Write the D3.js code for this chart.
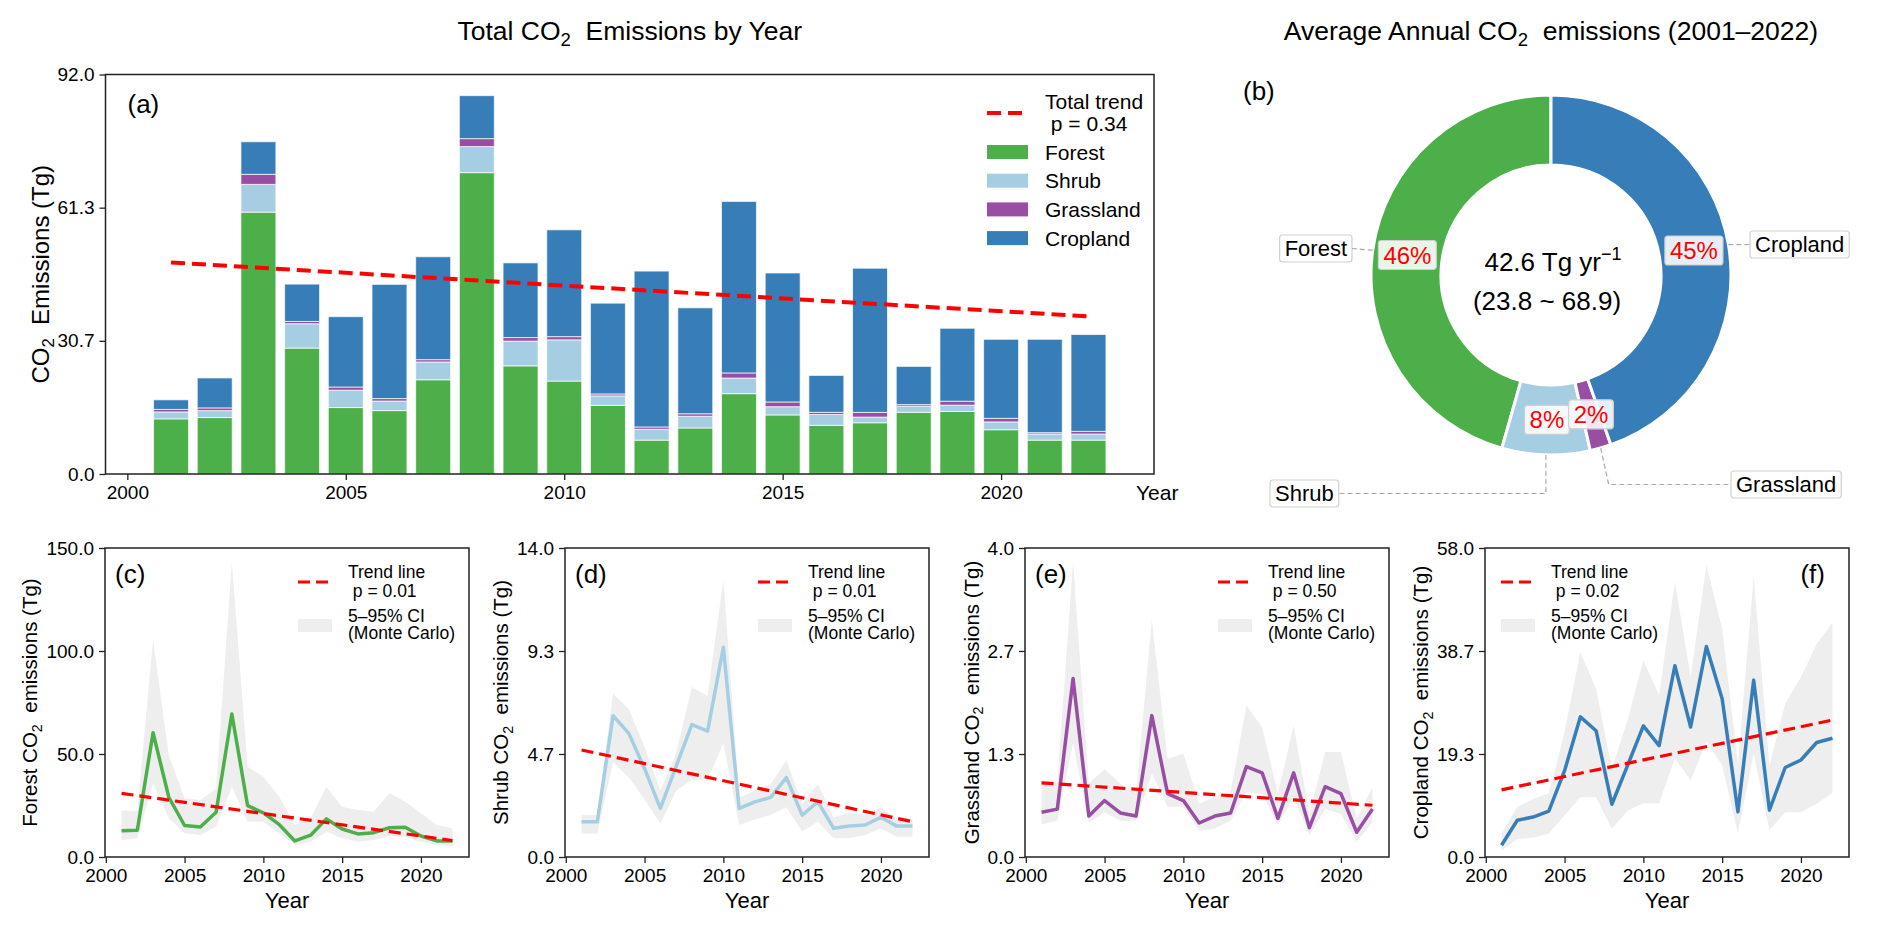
<!DOCTYPE html>
<html>
<head>
<meta charset="utf-8">
<script src="https://cdn.jsdelivr.net/npm/d3@7"></script>
<style>
  body { margin: 0; background: #fff; }
  svg { display: block; font-family: "Liberation Sans", Arial, sans-serif; }
  text { white-space: pre; }
</style>
</head>
<body>
<svg id="chart" width="1892" height="927"></svg>
<script>
// Values (Tg CO2 per year)
const years = [2001, 2002, 2003, 2004, 2005, 2006, 2007, 2008, 2009, 2010, 2011,
               2012, 2013, 2014, 2015, 2016, 2017, 2018, 2019, 2020, 2021, 2022]
const forest = [12.7, 13.0, 60.3, 29.0, 15.3, 14.6, 21.7, 69.4, 24.9, 21.4, 15.8,
                7.8, 10.6, 18.5, 13.6, 11.2, 11.8, 14.2, 14.4, 10.2, 7.8, 7.8]
const shrub = [1.6, 1.6, 6.4, 5.6, 4.0, 2.2, 4.1, 6.0, 5.7, 9.5, 2.2,
               2.5, 2.7, 3.6, 1.9, 2.5, 1.3, 1.4, 1.45, 1.8, 1.4, 1.4]
const grassland = [0.58, 0.62, 2.31, 0.53, 0.73, 0.57, 0.53, 1.83, 0.82, 0.73, 0.44,
                   0.53, 0.57, 1.17, 1.09, 0.50, 1.09, 0.38, 0.91, 0.82, 0.32, 0.62]
const cropland = [2.2, 6.9, 7.5, 8.6, 16.2, 26.3, 23.7, 9.9, 17.2, 24.6, 20.9,
                  35.9, 24.4, 39.5, 29.7, 8.5, 33.2, 8.8, 16.8, 18.2, 21.5, 22.3]

// 5-95% Monte Carlo bands
const forestLo = [8.3, 9.1, 35.8, 18.8, 11.5, 10.7, 14.7, 34.1, 17.1, 17.1, 11.5,
                  5.8, 7.4, 12.3, 9.1, 7.4, 8.3, 9.9, 9.9, 7.4, 5.8, 5.3]
const forestHi = [22.5, 22.5, 105.3, 49.5, 28.5, 27.7, 33.3, 143.3, 43.8, 39.0, 29.3,
                  15.5, 18.8, 34.1, 24.4, 22.8, 22.0, 30.9, 26.8, 21.2, 15.5, 13.9]
const shrubLo = [1.07, 1.07, 4.3, 3.6, 2.6, 1.5, 3.0, 3.5, 3.5, 5.15, 1.45,
                 1.7, 1.9, 2.25, 1.15, 1.6, 0.85, 0.85, 1.0, 1.3, 0.92, 0.92]
const shrubHi = [1.9, 1.9, 7.4, 6.7, 5.0, 3.0, 4.7, 7.7, 7.3, 12.6, 2.7,
                 3.0, 3.3, 4.4, 2.4, 3.3, 1.8, 2.0, 1.9, 2.25, 1.75, 1.75]
const grassLo = [0.42, 0.47, 1.47, 0.44, 0.58, 0.47, 0.47, 1.08, 0.65, 0.65, 0.34,
                 0.37, 0.47, 0.84, 0.82, 0.41, 0.78, 0.28, 0.62, 0.56, 0.2, 0.45]
const grassHi = [0.99, 0.96, 3.82, 0.95, 1.14, 0.95, 0.82, 3.07, 1.27, 1.34, 0.69,
                 0.78, 0.84, 1.96, 1.68, 0.82, 1.70, 0.56, 1.36, 1.36, 0.5, 0.9]
const cropLo = [1.2, 3.4, 3.6, 4.4, 7.8, 11.2, 11.2, 5.3, 8.7, 10.1, 10.1,
                18.5, 14.4, 21.6, 17.2, 4.4, 19.4, 5.0, 8.4, 8.4, 10.0, 12.0]
const cropHi = [4.4, 9.4, 10.9, 11.9, 23.5, 38.5, 31.6, 16.6, 25.7, 36.9, 30.4,
                51.7, 33.8, 54.8, 42.9, 17.5, 52.6, 17.2, 28.8, 33.8, 40.0, 44.0]

// trend lines, value at 2001 and at 2022
const totalTrend = [48.7, 36.3]
const forestTrend = [30.9, 8.0]
const shrubTrend = [4.85, 1.6]
const grassTrend = [0.96, 0.67]
const cropTrend = [12.6, 25.7]
const pValues = ['0.34', '0.01', '0.01', '0.50', '0.02']

const categories = ['Forest', 'Shrub', 'Grassland', 'Cropland']
const colors = ['#4daf4a', '#a6cee3', '#984ea3', '#377eb8']
const donutShare = [45.6, 7.9, 1.9, 44.6]

const yearTicks = [2000, 2005, 2010, 2015, 2020]
const barTicks = [0, 30.667, 61.333, 92]
const forestTicks = [0, 50, 100, 150]
const shrubTicks = [0, 4.667, 9.333, 14]
const grassTicks = [0, 1.333, 2.667, 4]
const cropTicks = [0, 19.333, 38.667, 58]

const svg = d3.select('#chart')
svg.append('rect').attr('width', 1892).attr('height', 927).attr('fill', '#fff')

function styleAxis(g, fs) {
    g.attr('font-family', null).attr('font-size', fs)
    g.select('.domain').remove()
    g.selectAll('.tick line').attr('stroke', '#222').attr('stroke-width', 1.3)
    g.selectAll('.tick text').attr('fill', '#000')
}

// "CO" + subscript 2
function co2(text, before, after, fs) {
    text.append('tspan').text(before + 'CO')
    text.append('tspan').text('2').attr('font-size', fs * 0.7).attr('dy', fs * 0.22)
    text.append('tspan').text(after).attr('dy', -fs * 0.22)
}

function frame(g, l, t, r, b) {
    g.append('rect').attr('x', l).attr('y', t).attr('width', r - l).attr('height', b - t)
        .attr('fill', 'none').attr('stroke', '#222').attr('stroke-width', 1.5)
}

// ---------------- (a) stacked bars ----------------
const A = { left: 105.5, right: 1154, top: 74.5, bottom: 474 }
const xA = d3.scaleLinear().domain([1999.5, 2023.5]).range([A.left, A.right])
const yA = d3.scaleLinear().domain([0, 92]).range([A.bottom, A.top])
const gA = svg.append('g')

const rows = years.map((yr, i) => ({
    year: yr, Forest: forest[i], Shrub: shrub[i], Grassland: grassland[i], Cropland: cropland[i]
}))
const layers = d3.stack().keys(categories)(rows)
const bw = xA(0.8) - xA(0)

gA.selectAll('g.layer')
    .data(layers)
    .join('g')
    .attr('class', 'layer')
    .attr('fill', (d, i) => colors[i])
    .selectAll('rect')
    .data(d => d)
    .join('rect')
    .attr('x', d => xA(d.data.year) - bw / 2)
    .attr('y', d => yA(d[1]))
    .attr('width', bw)
    .attr('height', d => yA(d[0]) - yA(d[1]))
    .attr('stroke', '#fff')
    .attr('stroke-opacity', 0.7)
    .attr('stroke-width', 1)

gA.append('path')
    .datum([[2001, totalTrend[0]], [2022, totalTrend[1]]])
    .attr('d', d3.line().x(d => xA(d[0])).y(d => yA(d[1])))
    .attr('stroke', '#ff0000').attr('stroke-width', 4)
    .attr('stroke-dasharray', '14,7').attr('fill', 'none')

gA.append('g')
    .attr('transform', `translate(0,${A.bottom})`)
    .call(d3.axisBottom(xA).tickValues(yearTicks).tickFormat(d3.format('d')).tickSize(6).tickPadding(6))
    .call(styleAxis, 19)
const yAxA = gA.append('g')
    .attr('transform', `translate(${A.left},0)`)
    .call(d3.axisLeft(yA).tickValues(barTicks).tickFormat(d3.format('.1f')).tickSize(6).tickPadding(5))
    .call(styleAxis, 19)
frame(gA, A.left, A.top, A.right, A.bottom)

const bbA = yAxA.node().getBBox()
const ylabA = gA.append('text')
    .attr('transform', `translate(${A.left + bbA.x - 9},${(A.top + A.bottom) / 2}) rotate(-90)`)
    .attr('text-anchor', 'middle').attr('font-size', 24)
co2(ylabA, '', '  Emissions (Tg)', 24)

gA.append('text').attr('x', 1136).attr('y', 500).attr('font-size', 21).text('Year')
gA.append('text').attr('x', A.left + 22).attr('y', A.top + 38).attr('font-size', 26).text('(a)')

const titleA = svg.append('text').attr('x', (A.left + A.right) / 2).attr('y', 40)
    .attr('text-anchor', 'middle').attr('font-size', 26.5)
co2(titleA, 'Total ', '  Emissions by Year', 26.5)

// legend (a)
const legA = gA.append('g').attr('font-size', 21)
legA.append('line').attr('x1', 987).attr('x2', 1028).attr('y1', 113).attr('y2', 113)
    .attr('stroke', '#ff0000').attr('stroke-width', 4).attr('stroke-dasharray', '14,7')
legA.append('text').attr('x', 1045).attr('y', 109).text('Total trend')
legA.append('text').attr('x', 1045).attr('y', 131).text(' p = ' + pValues[0])
categories.forEach((c, i) => {
    const cy = 152 + i * 28.7
    legA.append('rect').attr('x', 987).attr('y', cy - 7).attr('width', 41).attr('height', 14)
        .attr('fill', colors[i])
    legA.append('text').attr('x', 1045).attr('y', cy + 7.5).text(c)
})

// ---------------- (b) donut ----------------
const C = { x: 1551, y: 275, R: 180, r: 110 }
const gB = svg.append('g').attr('transform', `translate(${C.x},${C.y})`)
const pie = d3.pie().sort(null).startAngle(0).endAngle(-2 * Math.PI)
const slices = pie(donutShare)
const arc = d3.arc().innerRadius(C.r).outerRadius(C.R)
const midArc = d3.arc().innerRadius(145).outerRadius(145)
const edgeArc = d3.arc().innerRadius(C.R).outerRadius(C.R)

gB.selectAll('path.slice')
    .data(slices)
    .join('path')
    .attr('class', 'slice')
    .attr('d', arc)
    .attr('fill', (d, i) => colors[i])
    .attr('stroke', '#fff')
    .attr('stroke-width', 3)

function boxedText(g, x, y, txt, opts) {
    const t = g.append('text').attr('x', x).attr('y', y)
        .attr('font-size', opts.fs).attr('text-anchor', opts.anchor || 'start')
        .attr('fill', opts.color || '#000').text(txt)
    const bb = t.node().getBBox()
    g.insert('rect', () => t.node())
        .attr('x', bb.x - 5).attr('y', bb.y - 1).attr('width', bb.width + 10).attr('height', bb.height + 2)
        .attr('rx', 3).attr('fill', '#fff').attr('fill-opacity', opts.alpha || 1)
        .attr('stroke', '#cfcfcf').attr('stroke-width', 1.2)
    return { left: bb.x - 5, right: bb.x + bb.width + 5, cy: bb.y + bb.height / 2 }
}

slices.forEach((s, i) => {
    const [px, py] = midArc.centroid(s)
    boxedText(gB, px, py + 8.5, Math.round(s.data) + '%', { fs: 24, anchor: 'middle', color: '#ff0000', alpha: 0.88 })
})

// name labels and leader lines
const leader = d3.line()
function leaderPath(pts) {
    gB.append('path').attr('d', leader(pts)).attr('fill', 'none')
        .attr('stroke', '#aaa').attr('stroke-width', 1.2).attr('stroke-dasharray', '5,3')
}
const ed = slices.map(s => edgeArc.centroid(s))
const bF = boxedText(gB, 1347 - C.x, 256 - C.y, categories[0], { fs: 22, anchor: 'end' })
leaderPath([ed[0], [bF.right, bF.cy]])
const bC = boxedText(gB, 1755 - C.x, 252 - C.y, categories[3], { fs: 22 })
leaderPath([ed[3], [bC.left, bC.cy]])
const bS = boxedText(gB, 1275 - C.x, 501 - C.y, categories[1], { fs: 22 })
leaderPath([ed[1], [ed[1][0], bS.cy], [bS.right, bS.cy]])
const bG = boxedText(gB, 1736 - C.x, 492 - C.y, categories[2], { fs: 22 })
leaderPath([ed[2], [ed[2][0] + 8, bG.cy], [bG.left, bG.cy]])

const c1 = gB.append('text').attr('x', 2).attr('y', -4).attr('text-anchor', 'middle').attr('font-size', 26)
c1.append('tspan').text('42.6 Tg yr')
c1.append('tspan').text('\u22121').attr('font-size', 18).attr('dy', -11)
gB.append('text').attr('x', -4).attr('y', 35).attr('text-anchor', 'middle').attr('font-size', 26)
    .text('(23.8 ~ 68.9)')

svg.append('text').attr('x', 1243).attr('y', 100).attr('font-size', 26).text('(b)')
const titleB = svg.append('text').attr('x', C.x).attr('y', 40).attr('text-anchor', 'middle').attr('font-size', 26.5)
co2(titleB, 'Average Annual ', '  emissions (2001\u20132022)', 26.5)

// ---------------- (c)-(f) line panels ----------------
const panels = [
    { name: 'Forest', values: forest, lo: forestLo, hi: forestHi, trend: forestTrend, ticks: forestTicks, p: pValues[1], letter: '(c)', legendRight: true },
    { name: 'Shrub', values: shrub, lo: shrubLo, hi: shrubHi, trend: shrubTrend, ticks: shrubTicks, p: pValues[2], letter: '(d)', legendRight: true },
    { name: 'Grassland', values: grassland, lo: grassLo, hi: grassHi, trend: grassTrend, ticks: grassTicks, p: pValues[3], letter: '(e)', legendRight: true },
    { name: 'Cropland', values: cropland, lo: cropLo, hi: cropHi, trend: cropTrend, ticks: cropTicks, p: pValues[4], letter: '(f)', legendRight: false }
]
const panelLefts = [105, 565, 1025, 1485]
const pw = 364, pTop = 548, pBottom = 857

panels.forEach((cfg, k) => {
    const left = panelLefts[k], right = left + pw
    const x = d3.scaleLinear().domain([1999.95, 2023.05]).range([left, right])
    const y = d3.scaleLinear().domain([0, cfg.ticks[cfg.ticks.length - 1]]).range([pBottom, pTop])
    const g = svg.append('g')
    const pts = years.map((yr, i) => ({ yr: yr, v: cfg.values[i], lo: cfg.lo[i], hi: cfg.hi[i] }))

    g.append('path').datum(pts)
        .attr('d', d3.area().x(d => x(d.yr)).y0(d => y(d.lo)).y1(d => y(d.hi)))
        .attr('fill', '#eeeeee')
    g.append('path').datum(pts)
        .attr('d', d3.line().x(d => x(d.yr)).y(d => y(d.v)))
        .attr('fill', 'none').attr('stroke', colors[k]).attr('stroke-width', 3.5)
        .attr('stroke-linejoin', 'round')
    g.append('path')
        .datum([[2001, cfg.trend[0]], [2022, cfg.trend[1]]])
        .attr('d', d3.line().x(d => x(d[0])).y(d => y(d[1])))
        .attr('fill', 'none').attr('stroke', '#ff0000').attr('stroke-width', 3.2)
        .attr('stroke-dasharray', '12,6')

    g.append('g').attr('transform', `translate(0,${pBottom})`)
        .call(d3.axisBottom(x).tickValues(yearTicks).tickFormat(d3.format('d')).tickSize(6).tickPadding(6))
        .call(styleAxis, 19)
    const yg = g.append('g').attr('transform', `translate(${left},0)`)
        .call(d3.axisLeft(y).tickValues(cfg.ticks).tickFormat(d3.format('.1f')).tickSize(6).tickPadding(5))
        .call(styleAxis, 19)
    frame(g, left, pTop, right, pBottom)

    const bb = yg.node().getBBox()
    const yl = g.append('text')
        .attr('transform', `translate(${left + bb.x - 9},${(pTop + pBottom) / 2}) rotate(-90)`)
        .attr('text-anchor', 'middle').attr('font-size', 20.5)
    co2(yl, cfg.name + ' ', '  emissions (Tg)', 20.5)
    g.append('text').attr('x', (left + right) / 2).attr('y', 908).attr('text-anchor', 'middle')
        .attr('font-size', 22).text('Year')

    if (cfg.legendRight) {
        g.append('text').attr('x', left + 10).attr('y', pTop + 35).attr('font-size', 26).text(cfg.letter)
    } else {
        g.append('text').attr('x', right - 24).attr('y', pTop + 35).attr('text-anchor', 'end')
            .attr('font-size', 26).text(cfg.letter)
    }

    const lx = cfg.legendRight ? right - 171 : left + 16
    const lg = g.append('g').attr('font-size', 17.5)
    lg.append('line').attr('x1', lx).attr('x2', lx + 34).attr('y1', pTop + 34).attr('y2', pTop + 34)
        .attr('stroke', '#ff0000').attr('stroke-width', 3.2).attr('stroke-dasharray', '12,6')
    lg.append('text').attr('x', lx + 50).attr('y', pTop + 30).text('Trend line')
    lg.append('text').attr('x', lx + 50).attr('y', pTop + 49).text(' p = ' + cfg.p)
    lg.append('rect').attr('x', lx).attr('y', pTop + 71).attr('width', 34).attr('height', 13)
        .attr('fill', '#eeeeee')
    lg.append('text').attr('x', lx + 50).attr('y', pTop + 74).text('5\u201395% CI')
    lg.append('text').attr('x', lx + 50).attr('y', pTop + 91).text('(Monte Carlo)')
})
</script>
</body>
</html>
